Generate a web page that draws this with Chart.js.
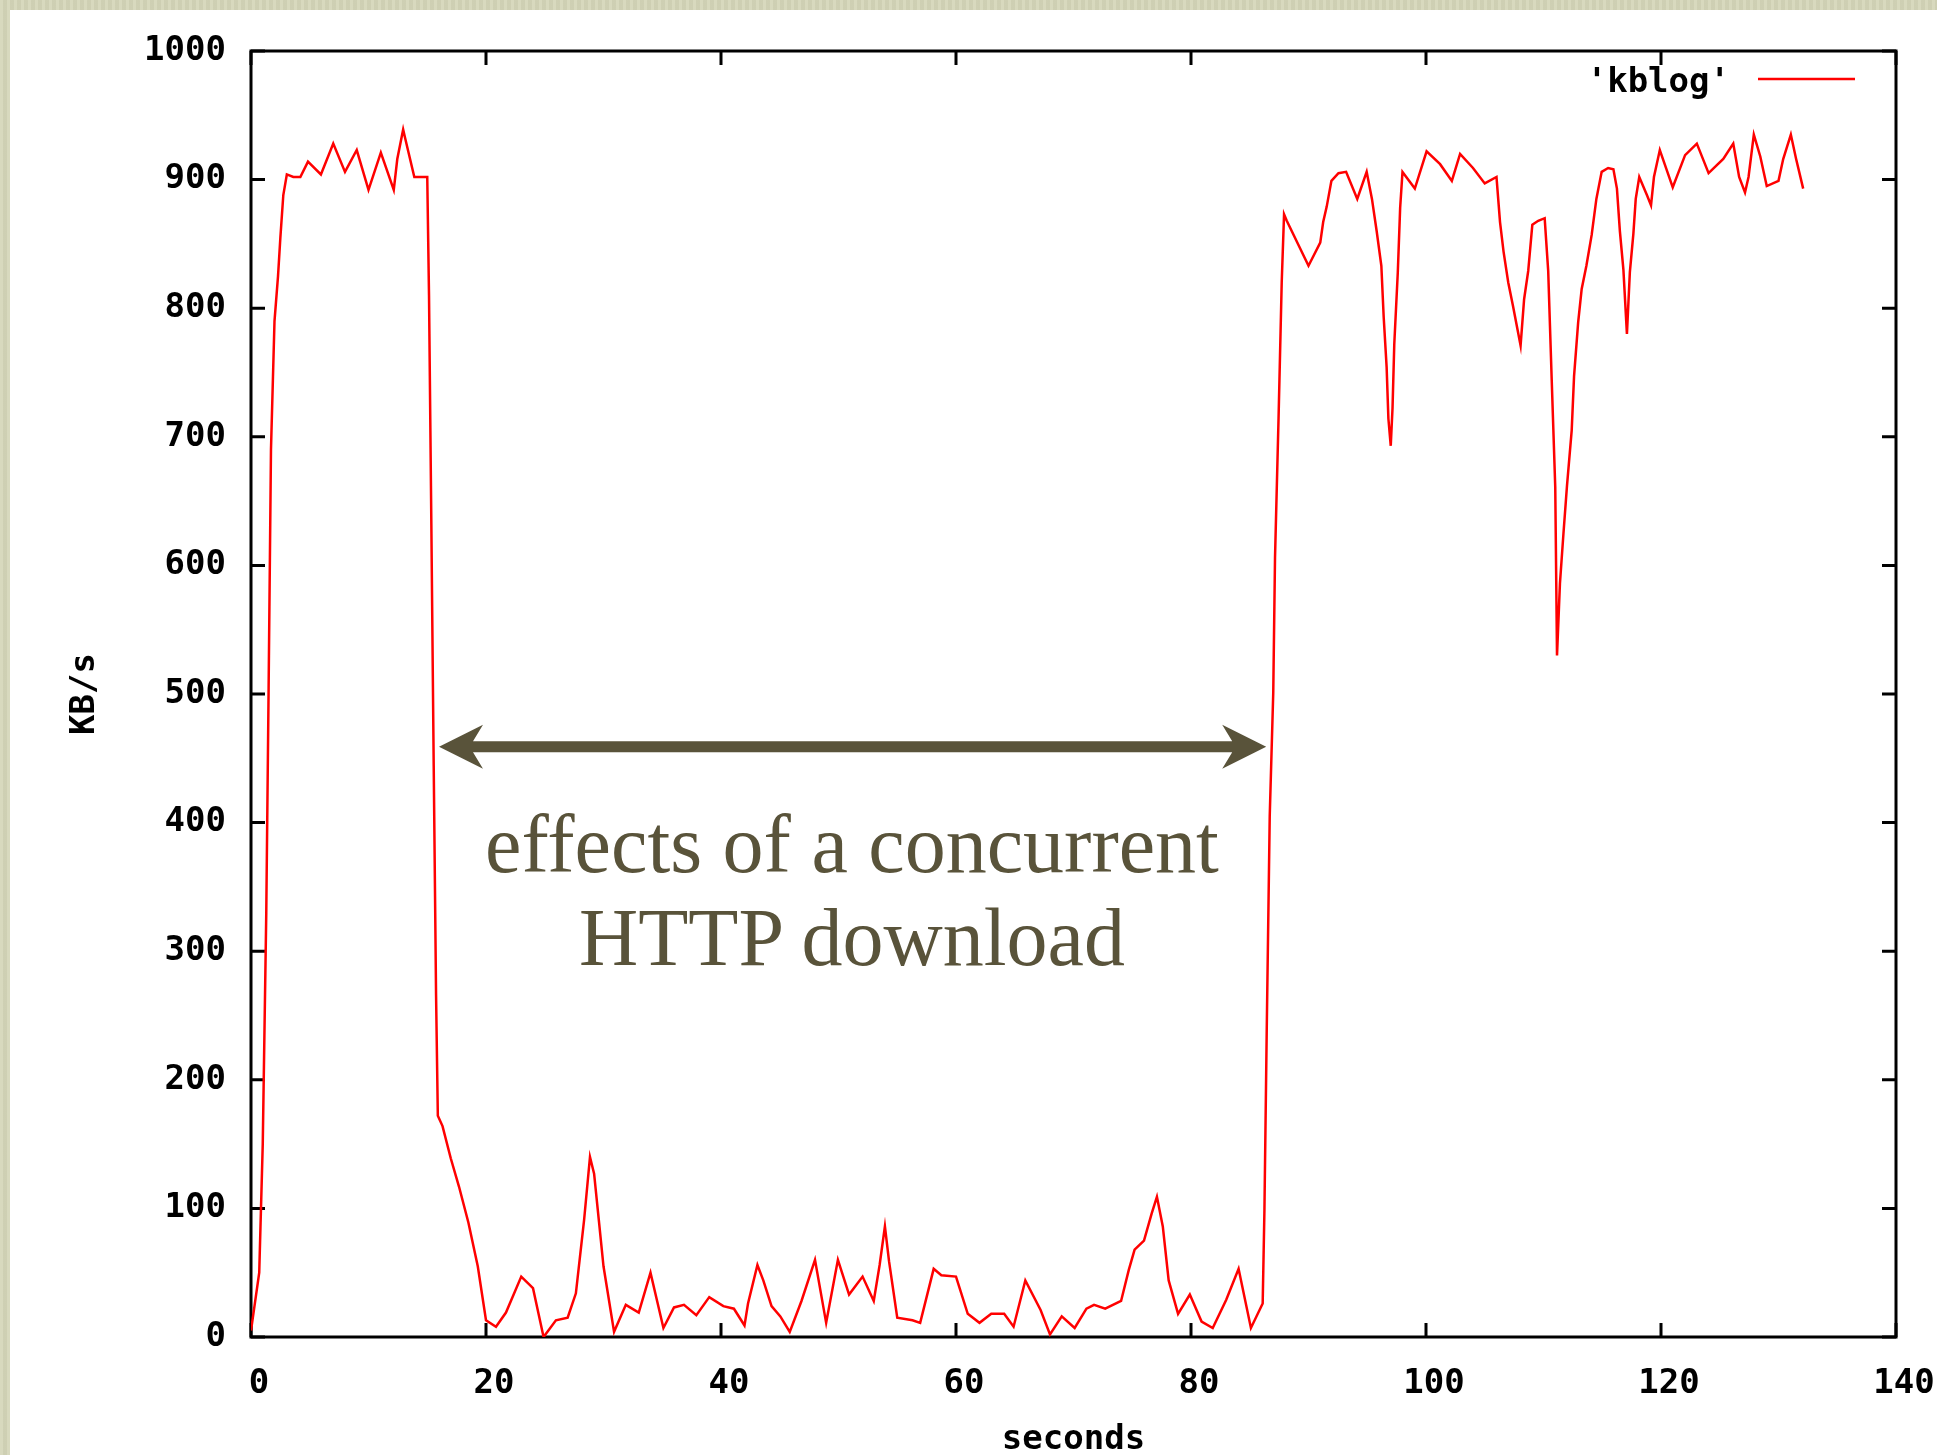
<!DOCTYPE html>
<html>
<head>
<meta charset="utf-8">
<script src="https://cdn.jsdelivr.net/npm/chart.js@4/dist/chart.umd.min.js"></script>
<style>
  html, body { margin: 0; padding: 0; overflow: hidden; }
  body {
    width: 1937px; height: 1455px;
    background: #d5d6b9;
    background-image: repeating-linear-gradient(90deg, rgba(255,255,255,0.08) 0px, rgba(255,255,255,0.08) 3px, rgba(0,0,0,0.03) 3px, rgba(0,0,0,0.03) 7px);
    position: relative;
  }
  #panel { position: absolute; left: 10px; top: 10px; right: 0; bottom: 0; background: #ffffff; }
  #grafico { position: absolute; left: 0; top: 0; }
  #nota {
    position: absolute; left: 352px; top: 798px; width: 1000px;
    text-align: center; color: #59533a;
    font-family: "Liberation Serif", "DejaVu Serif", serif;
    font-size: 82px; line-height: 93px;
  }
</style>
</head>
<body>
<div id="panel"></div>
<canvas id="grafico" width="1937" height="1455"></canvas>
<div id="nota">effects of a concurrent<br>HTTP download</div>
<script>
// kblog throughput samples (seconds, KB/s)
let seconds = [0,0.7,1.0,1.3,1.5,1.7,2.0,2.3,2.5,2.75,3.05,3.6,4.2,4.85,5.95,7.0,8.0,9.0,10.0,11.05,12.15,12.45,12.95,13.1,13.9,15.0,
    15.15,15.35,15.55,15.75,15.9,16.3,17.0,17.7,18.5,19.3,20.0,20.85,21.7,23.0,24.0,24.9,25.95,26.95,27.65,28.35,28.85,29.2,29.6,30.0,
    30.9,31.9,33.0,34.0,35.1,36.0,36.85,37.9,39.0,40.2,41.1,42.0,42.3,43.1,43.6,44.3,45.05,45.85,46.85,48.0,48.95,49.95,50.9,52.05,53.0,
    53.5,53.95,54.3,55.0,56.3,56.95,58.1,58.75,60.0,61.0,62.0,63.0,64.1,64.9,65.9,67.2,68.0,69.0,70.1,71.1,71.75,72.7,74.05,74.7,75.2,
    76.0,76.65,77.1,77.6,78.1,78.9,79.9,80.9,81.85,83.0,84.05,85.1,86.1,86.25,86.45,86.7,87.0,87.15,87.45,87.72,87.92,88.15,90.0,91.0,
    91.25,91.55,91.95,92.55,93.2,94.15,94.95,95.4,95.8,96.2,96.4,96.65,96.8,97.0,97.15,97.3,97.6,97.8,98.0,99.05,100.05,101.2,102.2,
    102.9,104.0,105.0,106.0,106.3,106.6,107.0,107.4,108.05,108.35,108.7,109.05,109.55,110.1,110.4,110.7,111.0,111.15,111.4,111.7,112.0,
    112.4,112.6,112.95,113.25,113.65,114.1,114.5,114.95,115.5,115.95,116.25,116.5,116.8,117.1,117.35,117.65,117.85,118.15,118.8,119.15,
    119.4,119.9,121.0,122.05,123.05,124.05,125.3,126.15,126.65,127.15,127.45,127.9,128.45,129.0,130.0,130.4,131.05,131.5,132.1];
let kbps = [5,50,150,330,505,690,790,825,855,888,904,902,902,914,904,928,906,923,892,921,892,916,939,933,902,902,
    810,631,444,266,172,164,139,117,89,55,13,8,19,47,38,0,13,15,34,91,140,127,91,55,
    4,25,19,50,7,23,25,17,31,24,22,9,26,56,44,24,16,4,28,60,11,60,33,47,28,
    56,86,59,15,13,11,53,48,47,18,11,18,18,8,44,21,2,16,7,22,25,22,28,52,68,
    75,96,109,86,44,18,33,12,7,29,53,7,26,99,242,405,501,606,714,820,873,868,833,851,
    867,879,899,905,906,885,906,885,860,833,793,754,714,693,722,772,828,878,906,893,922,912,899,
    920,909,897,902,867,844,820,802,771,807,829,865,868,870,829,744,661,530,586,625,662,
    705,747,789,815,833,857,885,906,909,908,893,860,830,780,828,858,885,902,888,880,
    902,923,894,919,928,905,916,928,902,890,902,935,918,895,899,916,935,916,893];

let xTicks = [0, 20, 40, 60, 80, 100, 120, 140];
let yTicks = [0, 100, 200, 300, 400, 500, 600, 700, 800, 900, 1000];
let serieNome = "'kblog'";
let tituloX = "seconds";
let tituloY = "KB/s";
// annotation arrow, in data units
let setaInicio = 16;
let setaFim = 86.4;
let setaNivel = 459;

let fonteTicks = { family: "'DejaVu Sans Mono', 'Liberation Mono', monospace", size: 34, weight: 'bold' };

let pontos = [];
for (let i = 0; i < seconds.length; i++) {
    pontos.push({ x: seconds[i], y: kbps[i] });
}

// gnuplot style frame: border on all sides, ticks pointing inwards
let molduraPlugin = {
    id: 'moldura',
    beforeDatasetsDraw: function (chart) {
        let ctx = chart.ctx;
        let area = chart.chartArea;
        let sx = chart.scales.x;
        let sy = chart.scales.y;
        let tam = 14;
        ctx.save();
        ctx.strokeStyle = '#000000';
        ctx.lineWidth = 3;
        ctx.strokeRect(area.left, area.top, area.right - area.left, area.bottom - area.top);
        ctx.beginPath();
        for (let t of sx.ticks) {
            let px = sx.getPixelForValue(t.value);
            ctx.moveTo(px, area.bottom);
            ctx.lineTo(px, area.bottom - tam);
            ctx.moveTo(px, area.top);
            ctx.lineTo(px, area.top + tam);
        }
        for (let t of sy.ticks) {
            let py = sy.getPixelForValue(t.value);
            ctx.moveTo(area.left, py);
            ctx.lineTo(area.left + tam, py);
            ctx.moveTo(area.right, py);
            ctx.lineTo(area.right - tam, py);
        }
        ctx.stroke();
        ctx.restore();
    },
    afterDraw: function (chart) {
        let ctx = chart.ctx;
        let area = chart.chartArea;
        let sx = chart.scales.x;
        let sy = chart.scales.y;
        ctx.save();

        // legend, top right inside the plot
        ctx.font = "bold 34px 'DejaVu Sans Mono', monospace";
        ctx.fillStyle = '#000000';
        ctx.textAlign = 'right';
        ctx.textBaseline = 'middle';
        ctx.fillText(serieNome, area.right - 166, area.top + 32);
        ctx.strokeStyle = '#ff0000';
        ctx.lineWidth = 2.5;
        ctx.beginPath();
        ctx.moveTo(area.right - 138, area.top + 28);
        ctx.lineTo(area.right - 41, area.top + 28);
        ctx.stroke();

        // double headed arrow
        let x1 = sx.getPixelForValue(setaInicio);
        let x2 = sx.getPixelForValue(setaFim);
        let y = sy.getPixelForValue(setaNivel);
        let cab = 44, meia = 22, entalhe = 10, haste = 5.5;
        ctx.fillStyle = '#59533a';
        ctx.beginPath();
        ctx.moveTo(x1, y);
        ctx.lineTo(x1 + cab, y - meia);
        ctx.lineTo(x1 + cab - entalhe, y - haste);
        ctx.lineTo(x2 - cab + entalhe, y - haste);
        ctx.lineTo(x2 - cab, y - meia);
        ctx.lineTo(x2, y);
        ctx.lineTo(x2 - cab, y + meia);
        ctx.lineTo(x2 - cab + entalhe, y + haste);
        ctx.lineTo(x1 + cab - entalhe, y + haste);
        ctx.lineTo(x1 + cab, y + meia);
        ctx.closePath();
        ctx.fill();
        ctx.restore();
    }
};

window.onload = function () {
    let ctx = document.getElementById("grafico").getContext('2d');
    new Chart(ctx, {
        type: 'line',
        data: {
            datasets: [{
                label: serieNome,
                data: pontos,
                borderColor: '#ff0000',
                borderWidth: 2.5,
                pointRadius: 0,
                tension: 0,
                fill: false
            }]
        },
        options: {
            responsive: false,
            animation: false,
            devicePixelRatio: 1,
            layout: { padding: { left: 0, top: 51, right: 41, bottom: 0 } },
            plugins: { legend: { display: false }, tooltip: { enabled: false } },
            scales: {
                x: {
                    type: 'linear',
                    min: xTicks[0],
                    max: xTicks[xTicks.length - 1],
                    afterBuildTicks: function (scale) {
                        scale.ticks = xTicks.map(v => ({ value: v }));
                    },
                    afterFit: function (scale) {
                        scale.height = 118;
                        scale.paddingLeft = 0;
                        scale.paddingRight = 0;
                    },
                    grid: { display: false, drawTicks: false },
                    border: { display: false },
                    ticks: {
                        font: fonteTicks, color: '#000000', padding: 27, labelOffset: 8, maxRotation: 0, autoSkip: false,
                        callback: function (v) { return String(v); }
                    },
                    title: { display: true, text: tituloX, font: fonteTicks, color: '#000000', padding: { top: 0, bottom: -6 } }
                },
                y: {
                    type: 'linear',
                    min: yTicks[0],
                    max: yTicks[yTicks.length - 1],
                    afterBuildTicks: function (scale) {
                        scale.ticks = yTicks.map(v => ({ value: v }));
                    },
                    afterFit: function (scale) { scale.width = 251; },
                    grid: { display: false, drawTicks: false },
                    border: { display: false },
                    ticks: {
                        font: fonteTicks, color: '#000000', padding: 25, autoSkip: false,
                        callback: function (v) { return String(v); }
                    },
                    title: { display: true, text: tituloY, font: fonteTicks, color: '#000000', padding: { top: 65, bottom: 0 } }
                }
            }
        },
        plugins: [molduraPlugin]
    });
};
</script>
</body>
</html>
